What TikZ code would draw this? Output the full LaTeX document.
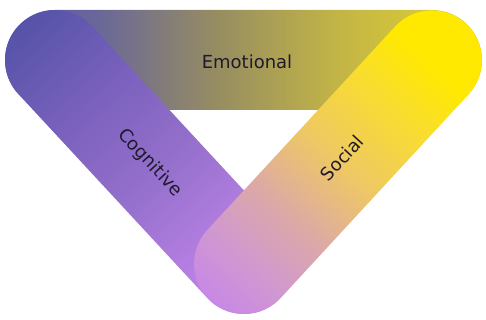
\documentclass[tikz,border=0pt]{standalone}
\usepackage{fontspec}
\setmainfont{DejaVu Sans}

\definecolor{inkdark}{HTML}{1E1A2C}

% shadings along each band (the band spans 25bp to 75bp)
\pgfdeclarehorizontalshading{emotionalfade}{100bp}{%
  color(0bp)=(rgb,255:red,88;green,86;blue,164);
  color(25bp)=(rgb,255:red,88;green,86;blue,164);
  color(35bp)=(rgb,255:red,106;green,104;blue,152);
  color(47bp)=(rgb,255:red,150;green,140;blue,98);
  color(60bp)=(rgb,255:red,195;green,181;blue,69);
  color(70bp)=(rgb,255:red,216;green,201;blue,56);
  color(75bp)=(rgb,255:red,220;green,203;blue,54);
  color(100bp)=(rgb,255:red,220;green,203;blue,54)}
\pgfdeclarehorizontalshading{cognitivefade}{100bp}{%
  color(0bp)=(rgb,255:red,85;green,83;blue,168);
  color(25bp)=(rgb,255:red,85;green,83;blue,168);
  color(40bp)=(rgb,255:red,124;green,98;blue,190);
  color(52bp)=(rgb,255:red,149;green,112;blue,204);
  color(65bp)=(rgb,255:red,184;green,128;blue,228);
  color(75bp)=(rgb,255:red,201;green,138;blue,238);
  color(100bp)=(rgb,255:red,201;green,138;blue,238)}
\pgfdeclarehorizontalshading{socialfade}{100bp}{%
  color(0bp)=(rgb,255:red,200;green,136;blue,230);
  color(25bp)=(rgb,255:red,200;green,136;blue,230);
  color(32bp)=(rgb,255:red,208;green,152;blue,208);
  color(40bp)=(rgb,255:red,220;green,168;blue,168);
  color(50bp)=(rgb,255:red,238;green,200;blue,100);
  color(61bp)=(rgb,255:red,249;green,222;blue,44);
  color(68bp)=(rgb,255:red,255;green,233;blue,0);
  color(75bp)=(rgb,255:red,255;green,233;blue,0);
  color(100bp)=(rgb,255:red,255;green,233;blue,0)}

\tikzset{
  band/.style={rounded corners=50pt},
  bandlabel/.style={font=\fontsize{18}{21}\selectfont, text=inkdark, inner sep=0pt}
}

\begin{document}
\begin{tikzpicture}[x=1pt, y=-1pt]
  \useasboundingbox (0,0) rectangle (486,320);

  % Corners of the centre line
  \coordinate (L) at (55,60);
  \coordinate (R) at (432,60);
  \coordinate (B) at (244,264);

  % Draw the top band
  \shade[band, shading=emotionalfade] (5,10) rectangle (482,110);

  % Draw the left band (canvas turned, so the shading turns too)
  \begin{scope}[transform canvas={shift={(L)}, rotate=-47.2}]
    \shade[band, shading=cognitivefade] (-50,-50) rectangle (328,50);
  \end{scope}

  % Draw the right band
  \begin{scope}[transform canvas={shift={(B)}, rotate=47.3}]
    \shade[band, shading=socialfade] (-50,-50) rectangle (327,50);
  \end{scope}

  % Add the labels
  \node[bandlabel] (emo) at (247,62) {Emotional};
  \node[bandlabel, rotate=-47.2] (cog) at (150,163) {Cognitive};
  \node[bandlabel, rotate=47.3] (soc) at (342,158) {Social};
\end{tikzpicture}
\end{document}
